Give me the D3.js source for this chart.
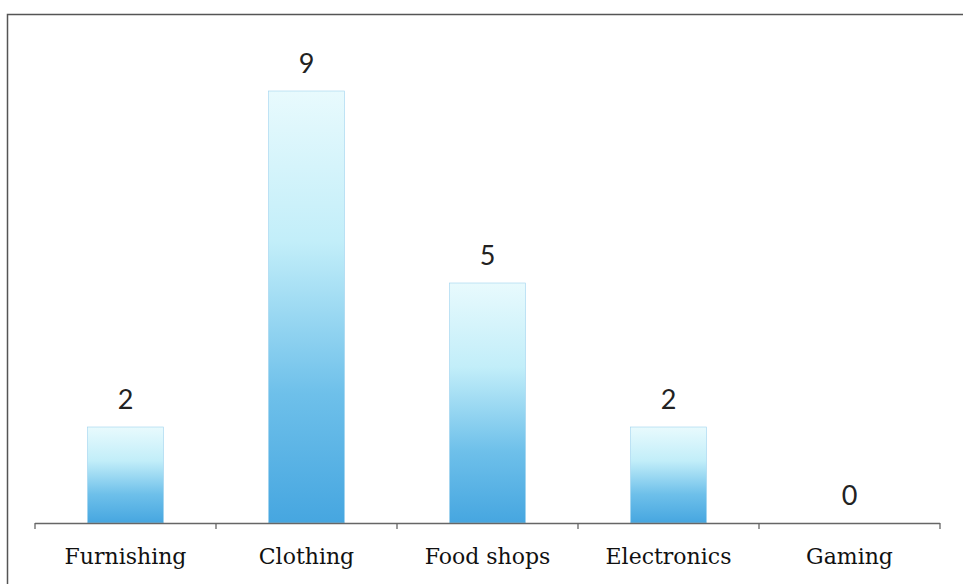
<!DOCTYPE html>
<html lang="en">
<head>
  <meta charset="UTF-8">
  <title>Shops by category</title>
  <script src="https://d3js.org/d3.v7.min.js"></script>
  <style>
    body { margin: 0; padding: 0; background: #fff; }
    svg { display: block; }
  </style>
</head>
<body>
  <script>
    // data
    const categories = ["Furnishing", "Clothing", "Food shops", "Electronics", "Gaming"];
    const counts = [2, 9, 5, 2, 0];

    const width = 963;
    const height = 584;
    const margin = { top: 43, left: 35, right: 23, bottom: 61 };
    const axisY = height - margin.bottom;

    const svg = d3.select("body").append("svg")
        .attr("width", width)
        .attr("height", height);

    // the scanned frame, its right and bottom edges fall off the page
    svg.append("rect")
        .attr("x", 7.5)
        .attr("y", 14.5)
        .attr("width", 1000)
        .attr("height", 1000)
        .attr("fill", "none")
        .attr("stroke", "#555")
        .attr("stroke-width", 1.5);

    const x = d3.scaleBand()
        .domain(categories)
        .range([margin.left, width - margin.right])
        .paddingInner(0.58)
        .paddingOuter(0.29);

    const y = d3.scaleLinear()
        .domain([0, 10])
        .range([axisY, margin.top]);

    const defs = svg.append("defs");
    const grad = defs.append("linearGradient")
        .attr("id", "barFill")
        .attr("x1", 0).attr("y1", 0)
        .attr("x2", 0).attr("y2", 1);
    grad.append("stop").attr("offset", "0%").attr("stop-color", "#e8fafd");
    grad.append("stop").attr("offset", "35%").attr("stop-color", "#c2eef9");
    grad.append("stop").attr("offset", "70%").attr("stop-color", "#6ec0ea");
    grad.append("stop").attr("offset", "100%").attr("stop-color", "#46a6e0");

    svg.append("g")
      .selectAll("rect")
      .data(counts)
      .join("rect")
        .attr("x", (d, i) => x(categories[i]))
        .attr("y", d => y(d))
        .attr("width", x.bandwidth())
        .attr("height", d => y(0) - y(d))
        .attr("fill", "url(#barFill)")
        .attr("stroke", d => d > 0 ? "#9fd3ee" : "none")
        .attr("stroke-width", 0.6);

    // value labels
    svg.append("g")
        .attr("font-family", "Lato, 'Open Sans', sans-serif")
        .attr("font-size", 27)
        .attr("fill", "#222")
        .attr("text-anchor", "middle")
      .selectAll("text")
      .data(counts)
      .join("text")
        .attr("x", (d, i) => x(categories[i]) + x.bandwidth() / 2)
        .attr("y", d => y(d) - 18)
        .text(d => d);

    // category axis with ticks between the bands
    const tickX = d3.range(categories.length + 1).map(i => margin.left + i * (width - margin.left - margin.right) / categories.length);

    svg.append("line")
        .attr("x1", tickX[0]).attr("x2", tickX[tickX.length - 1])
        .attr("y1", axisY + 0.5).attr("y2", axisY + 0.5)
        .attr("stroke", "#666")
        .attr("stroke-width", 1.3);

    svg.append("g")
      .selectAll("line")
      .data(tickX)
      .join("line")
        .attr("x1", d => d).attr("x2", d => d)
        .attr("y1", axisY).attr("y2", axisY + 6)
        .attr("stroke", "#666")
        .attr("stroke-width", 1.3);

    svg.append("g")
        .attr("font-family", "'DejaVu Serif', 'Liberation Serif', serif")
        .attr("font-size", 22)
        .attr("fill", "#111")
        .attr("text-anchor", "middle")
      .selectAll("text")
      .data(categories)
      .join("text")
        .attr("x", d => x(d) + x.bandwidth() / 2)
        .attr("y", axisY + 41)
        .text(d => d);
  </script>
</body>
</html>
